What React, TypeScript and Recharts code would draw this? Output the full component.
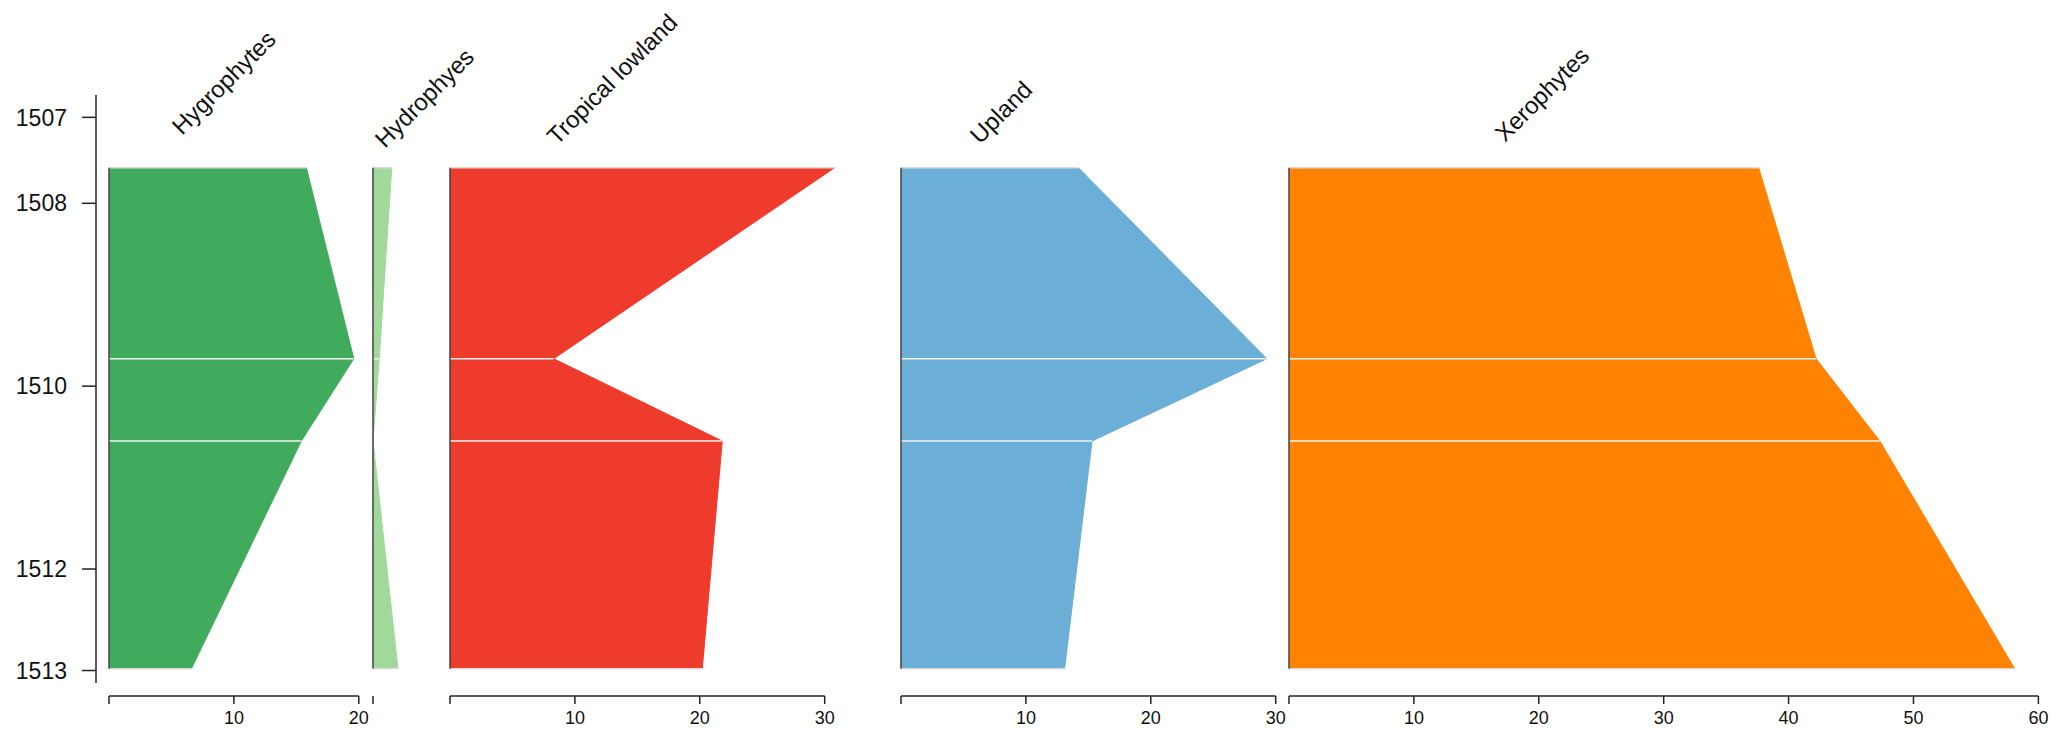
import React from 'react'
import { ComposedChart, Area, XAxis, YAxis, ReferenceLine } from 'recharts'

// sample depths (years) and percentages per ecological group
const years = [1507.61, 1509.7, 1510.6, 1513.09]
const hygrophytes = [15.8, 19.6, 15.4, 6.6]
const hydrophyes = [1.5, 0.5, 0, 2.0]
const tropicalLowland = [30.8, 8.3, 21.8, 20.2]
const upland = [14.2, 29.3, 15.3, 13.1]
const xerophytes = [37.6, 42.2, 47.3, 58.1]

const yearTicks = [1507.06, 1508, 1510, 1512, 1513.11]
const groupNames = ['Hygrophytes', 'Hydrophyes', 'Tropical lowland', 'Upland', 'Xerophytes']
const groupValues = [hygrophytes, hydrophyes, tropicalLowland, upland, xerophytes]
const groupAxisMax = [20, 2, 30, 30, 60]
const groupTicks = [[0, 10, 20], [0], [0, 10, 20, 30], [0, 10, 20, 30], [0, 10, 20, 30, 40, 50, 60]]

// layout
const FONT = '"Liberation Sans", Arial, Helvetica, sans-serif'
const colors = ['#41ab5d', '#a1d99b', '#ef3b2c', '#6baed6', '#ff8200']
const panelLeft = [109.3, 373.3, 450, 901, 1289.3]
const titleAnchor = [
  [182, 136],
  [385, 149],
  [557, 146],
  [980, 145],
  [1505, 143],
]
const PX_PER_UNIT = 12.49
const PX_PER_YEAR = 91.43
const REF_YEAR_PX = 203.3 // where 1508 sits
const PLOT_TOP = 95
const AXIS_BOTTOM = 683
const PANEL_BOTTOM = 696
const SIDE = 24
const X_AXIS_H = 48
const Y_AXIS_X = 95.7
const Y_AXIS_W = 90

const yearAt = (px: number) => 1508 + (px - REF_YEAR_PX) / PX_PER_YEAR
const axisDomain = [yearAt(PLOT_TOP), yearAt(AXIS_BOTTOM)]
const panelDomain = [yearAt(PLOT_TOP), yearAt(PANEL_BOTTOM)]

const ink = '#222'

function Panel({ idx }: { idx: number }) {
  const values = groupValues[idx]
  const data = years.map((year, k) => ({ year, value: values[k] }))
  const plotW = groupAxisMax[idx] * PX_PER_UNIT
  const plotH = PANEL_BOTTOM - PLOT_TOP
  const color = colors[idx]
  return (
    <div style={{ position: 'absolute', left: panelLeft[idx] - SIDE, top: PLOT_TOP }}>
      <ComposedChart
        width={plotW + SIDE * 2}
        height={plotH + X_AXIS_H}
        data={data}
        layout="vertical"
        margin={{ top: 0, right: SIDE, bottom: 0, left: SIDE }}
      >
        <XAxis
          type="number"
          domain={[0, groupAxisMax[idx]]}
          allowDataOverflow
          ticks={groupTicks[idx]}
          interval={0}
          tickFormatter={(v) => (v === 0 ? '' : String(v))}
          axisLine={idx === 1 ? false : { stroke: ink, strokeWidth: 1.5 }}
          tickLine={{ stroke: ink, strokeWidth: 1.5 }}
          tickSize={8}
          tickMargin={7}
          tick={{ fill: '#111', fontSize: 18, fontFamily: FONT }}
          height={X_AXIS_H}
        />
        <YAxis type="number" dataKey="year" domain={panelDomain} allowDataOverflow hide />
        <Area
          type="linear"
          dataKey="value"
          baseValue={0}
          fill={color}
          fillOpacity={1}
          stroke={color}
          strokeWidth={1}
          isAnimationActive={false}
        />
        {data.map((d, k) => (
          <ReferenceLine
            key={`sep-${k}`}
            segment={[
              { x: 0, y: d.year },
              { x: d.value, y: d.year },
            ]}
            stroke={k === 0 || k === data.length - 1 ? '#dcdcdc' : '#f2f2f2'}
            strokeWidth={1.5}
            ifOverflow="visible"
          />
        ))}
        <ReferenceLine
          segment={[
            { x: 0, y: years[0] },
            { x: 0, y: years[years.length - 1] },
          ]}
          stroke="#444"
          strokeWidth={1.5}
          ifOverflow="visible"
        />
      </ComposedChart>
    </div>
  )
}

function YearAxis() {
  const data = years.map((year) => ({ year }))
  const plotH = AXIS_BOTTOM - PLOT_TOP
  return (
    <div style={{ position: 'absolute', left: Y_AXIS_X - Y_AXIS_W, top: PLOT_TOP }}>
      <ComposedChart
        width={Y_AXIS_W + 20}
        height={plotH + 10}
        data={data}
        layout="vertical"
        margin={{ top: 0, right: 10, bottom: 10, left: 0 }}
      >
        <XAxis type="number" domain={[0, 1]} hide />
        <YAxis
          type="number"
          dataKey="year"
          domain={axisDomain}
          allowDataOverflow
          ticks={yearTicks}
          interval={0}
          tickFormatter={(v) => String(Math.round(v))}
          width={Y_AXIS_W}
          tickSize={14}
          tickMargin={15}
          axisLine={{ stroke: ink, strokeWidth: 1.5 }}
          tickLine={{ stroke: ink, strokeWidth: 1.5 }}
          tick={{ fill: '#111', fontSize: 23, fontFamily: FONT }}
        />
      </ComposedChart>
    </div>
  )
}

export default function App() {
  return (
    <div style={{ position: 'absolute', left: 0, top: 0, width: 2067, height: 744, background: '#fff' }}>
      <style>{'.recharts-area [clip-path]{clip-path:none !important}'}</style>
      <YearAxis />
      {groupNames.map((_, i) => (
        <Panel key={i} idx={i} />
      ))}
      <svg
        width={2067}
        height={744}
        style={{ position: 'absolute', left: 0, top: 0, pointerEvents: 'none' }}
      >
        {groupNames.map((name, i) => (
          <text
            key={name}
            x={titleAnchor[i][0]}
            y={titleAnchor[i][1]}
            transform={`rotate(-45, ${titleAnchor[i][0]}, ${titleAnchor[i][1]})`}
            fontSize={24}
            fontFamily={FONT}
            fill="#111"
          >
            {name}
          </text>
        ))}
      </svg>
    </div>
  )
}
